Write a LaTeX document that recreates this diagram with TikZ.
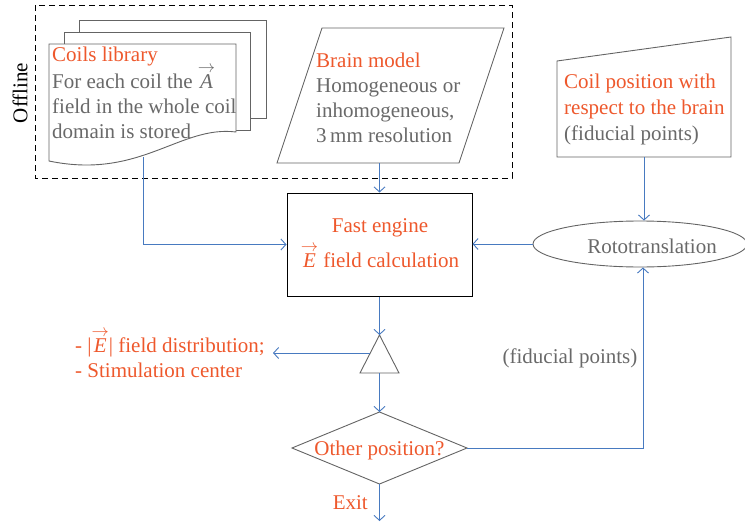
\documentclass[tikz,border=0pt]{standalone}
\usepackage{fontspec}
\setmainfont{Liberation Serif}
\usetikzlibrary{arrows.meta,shapes.geometric}
\definecolor{hot}{RGB}{238,88,44}
\definecolor{txtgray}{RGB}{105,105,105}
\definecolor{edgegray}{RGB}{100,100,100}
\definecolor{flow}{RGB}{72,122,192}
% italic letter with an arrow set above it
\newcommand{\vecarrow}[1]{\leavevmode\hbox{\ooalign{\hfil\raise0.72em\hbox{\fontsize{17}{17}\selectfont$\rightarrow$}\hfil\cr\hfil\itshape #1\/\hfil\cr}}}

\begin{document}
\begin{tikzpicture}[x=1pt,y=-1pt,
  outline/.style={draw=edgegray, line width=0.9pt, fill=white},
  flowline/.style={draw=flow, line width=0.9pt, -{Straight Barb[length=5pt,width=11pt,line width=0.9pt]}},
  txt/.style={font=\fontsize{21}{25}\selectfont, inner sep=0pt, align=left},
  ctxt/.style={font=\fontsize{21}{25}\selectfont, inner sep=0pt, align=center}]
\useasboundingbox (0,0) rectangle (745,522);

% offline group
\draw[line width=0.9pt, dash pattern=on 6pt off 4pt] (35,5) rectangle (512,178);
\node[font=\fontsize{21}{25}\selectfont, rotate=90, inner sep=0pt] (offline) at (20,93) {Offline};

% coils library: stacked documents
\draw[outline] (79,20) rectangle (266,118);
\draw[outline] (64,32) rectangle (250,130);
\draw[outline] (49,44) -- (236,44) -- (236,132)
  .. controls (180,125) and (140,180) .. (49,161) -- cycle;
\coordinate (libout) at (143,157);
\node[txt, anchor=base west, text=txtgray] (libtext) at (52,138)
  {\textcolor{hot}{Coils library}\\For each coil the \vecarrow{A}\\field in the whole coil\\domain is stored};

% brain model
\draw[outline] (322,28) -- (504,28) -- (459,163) -- (277,163) -- cycle;
\coordinate (brainout) at (379.5,163);
\node[txt, anchor=base west, text=txtgray] (braintext) at (316,142)
  {\textcolor{hot}{Brain model}\\Homogeneous or\\inhomogeneous,\\3\,mm resolution};

% coil position (manual input)
\draw[outline] (557,61) -- (731,37) -- (731,157) -- (557,157) -- cycle;
\coordinate (coilout) at (644,157);
\node[txt, anchor=base west, text=txtgray, font=\fontsize{21}{26}\selectfont] (coiltext) at (564,140)
  {\textcolor{hot}{Coil position with}\\\textcolor{hot}{respect to the brain}\\(fiducial points)};

% fast engine
\node[draw=black, line width=1pt, minimum width=185pt, minimum height=103pt, inner sep=0pt] (engine) at (379.5,244.5) {};
\node[ctxt, anchor=base, text=hot] (enginetext) at (380,267)
  {Fast engine\\[8pt]\vecarrow{E} field calculation};

% rototranslation
\node[ellipse, draw=edgegray, line width=0.9pt, minimum width=214pt, minimum height=46pt, inner sep=0pt] (roto) at (640,244) {};
\node[ctxt, anchor=base, text=txtgray] (rototext) at (652,253) {Rototranslation};

% merge triangle
\draw[outline] (379.5,335) -- (399,373) -- (360,373) -- cycle;
\coordinate (tritop) at (379.5,335);
\coordinate (trileft) at (370,353);
\coordinate (tribase) at (379.5,373);
\coordinate (outend) at (273,353);
\node[txt, anchor=base west, text=hot] (outtext) at (75,377)
  {- |\vecarrow{E}| field distribution;\\- Stimulation center};

% decision
\draw[outline] (379.5,412) -- (467,448) -- (379.5,484) -- (292,448) -- cycle;
\coordinate (diatop) at (379.5,412);
\coordinate (diabottom) at (379.5,484);
\coordinate (diaright) at (467,448);
\coordinate (exitend) at (379.5,521);
\node[ctxt, anchor=base, text=hot] (diatext) at (379.5,455) {Other position?};
\node[txt, anchor=base east, text=hot] (exittext) at (368,509) {Exit};
\node[ctxt, anchor=base, text=txtgray] (fidtext) at (570,363) {(fiducial points)};

% connectors
\draw[flowline] (libout) |- (engine.west);
\draw[flowline] (brainout) -- (engine.north);
\draw[flowline] (coilout) -- (coilout |- roto.north);
\draw[flowline] (roto.west) -- (roto.west -| engine.east);
\draw[flowline] (engine.south) -- (tritop);
\draw[flowline] (trileft) -- (outend);
\draw[flowline] (tribase) -- (diatop);
\draw[flowline] (diabottom) -- (exitend);
\draw[flowline] (diaright) -| ([xshift=3pt]roto.south);
\end{tikzpicture}
\end{document}
